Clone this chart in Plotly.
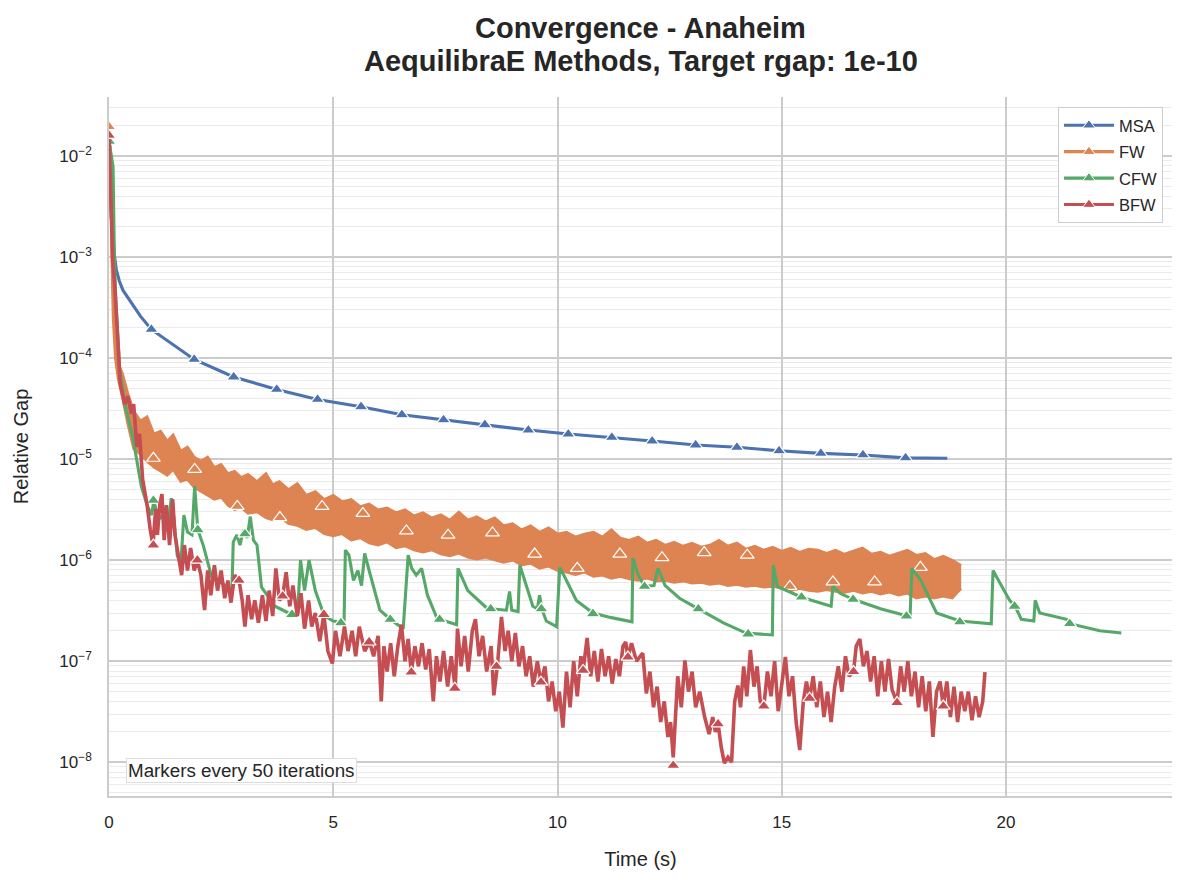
import plotly.graph_objects as go

# MSA
msa_t = [0.0, 0.05, 0.094, 0.12, 0.165, 0.23, 0.31, 0.46, 0.7, 0.945, 1.90, 2.78, 3.74, 4.65,
         5.62, 6.53, 7.46, 8.38, 9.35, 10.24, 11.21, 12.11, 13.08, 14.00, 14.94, 15.87, 16.81,
         17.76, 18.69]
msa_gap = [1.6e-2, 2.5e-3, 1.6e-3, 1.05e-3, 7.4e-4, 5.8e-4, 4.7e-4, 3.7e-4, 2.6e-4, 1.92e-4,
           9.7e-5, 6.5e-5, 4.9e-5, 3.9e-5, 3.3e-5, 2.75e-5, 2.45e-5, 2.19e-5, 1.94e-5, 1.77e-5,
           1.64e-5, 1.51e-5, 1.38e-5, 1.31e-5, 1.21e-5, 1.14e-5, 1.10e-5, 1.03e-5, 1.02e-5]
msa_mark_t = [0.0, 0.945, 1.90, 2.78, 3.74, 4.65, 5.62, 6.53, 7.46, 8.38, 9.35, 10.24, 11.21,
              12.11, 13.08, 14.00, 14.94, 15.87, 16.81, 17.76]
msa_mark_gap = [1.6e-2, 1.92e-4, 9.7e-5, 6.5e-5, 4.9e-5, 3.9e-5, 3.3e-5, 2.75e-5, 2.45e-5, 2.19e-5,
                1.94e-5, 1.77e-5, 1.64e-5, 1.51e-5, 1.38e-5, 1.31e-5, 1.21e-5, 1.14e-5, 1.10e-5, 1.03e-5]

# FW oscillates heavily, kept as upper / lower edge of the band
fw_t = [0.0, 0.03, 0.06, 0.09, 0.14, 0.2, 0.3, 0.42, 0.55, 0.7, 0.85, 1.0, 1.15, 1.3, 1.43, 1.6,
        1.75, 1.9, 2.05, 2.2, 2.35, 2.5, 2.65, 2.8, 2.95, 3.1, 3.3, 3.5, 3.65, 3.8, 4.0, 4.2, 4.4,
        4.6, 4.8, 5.0, 5.2, 5.4, 5.6, 5.8, 6.0, 6.2, 6.4, 6.6, 6.8, 7.0, 7.2, 7.4, 7.6, 7.8, 8.0,
        8.2, 8.4, 8.6, 8.8, 9.0, 9.2, 9.4, 9.6, 9.8, 10.0, 10.2, 10.4, 10.6, 10.8, 11.0, 11.2,
        11.4, 11.6, 11.8, 12.0, 12.2, 12.4, 12.6, 12.8, 13.0, 13.2, 13.4, 13.6, 13.8, 14.0, 14.2,
        14.4, 14.6, 14.8, 15.0, 15.2, 15.4, 15.6, 15.8, 16.0, 16.2, 16.4, 16.6, 16.8, 17.0, 17.2,
        17.4, 17.6, 17.8, 18.0, 18.2, 18.4, 18.6, 18.8, 19.0]
fw_hi = [1.95e-2, 1.1e-2, 1.5e-3, 4.5e-4, 1.4e-4, 8.9e-5, 7.1e-5, 4.5e-5, 3.0e-5, 2.4e-5, 2.63e-5,
         1.78e-5, 1.9e-5, 1.51e-5, 1.74e-5, 1.2e-5, 1.32e-5, 1.05e-5, 9.55e-6, 1.05e-5, 8.3e-6,
         8.9e-6, 7.2e-6, 7.6e-6, 6.6e-6, 7.1e-6, 6.0e-6, 7.2e-6, 5.6e-6, 6.0e-6, 5.0e-6, 5.75e-6,
         4.4e-6, 4.8e-6, 4.0e-6, 4.4e-6, 3.8e-6, 4.0e-6, 3.4e-6, 3.6e-6, 3.16e-6, 3.3e-6, 2.95e-6,
         3.16e-6, 2.75e-6, 2.95e-6, 2.63e-6, 2.82e-6, 2.5e-6, 3.0e-6, 2.5e-6, 2.7e-6, 2.4e-6,
         2.63e-6, 2.2e-6, 2.3e-6, 2.0e-6, 2.2e-6, 1.9e-6, 2.1e-6, 1.82e-6, 1.9e-6, 1.7e-6, 1.82e-6,
         1.9e-6, 1.7e-6, 2.0e-6, 1.66e-6, 1.58e-6, 1.7e-6, 1.48e-6, 1.58e-6, 1.41e-6, 1.51e-6,
         1.38e-6, 1.48e-6, 1.35e-6, 1.41e-6, 1.58e-6, 1.38e-6, 1.48e-6, 1.29e-6, 1.38e-6, 1.26e-6,
         1.35e-6, 1.23e-6, 1.32e-6, 1.2e-6, 1.29e-6, 1.26e-6, 1.17e-6, 1.26e-6, 1.15e-6, 1.23e-6,
         1.32e-6, 1.15e-6, 1.2e-6, 1.1e-6, 1.17e-6, 1.26e-6, 1.12e-6, 1.17e-6, 1.02e-6, 1.1e-6,
         1.0e-6, 8.9e-7]
fw_lo = [1.95e-2, 1.1e-2, 1.0e-3, 2.5e-4, 1.0e-4, 6.3e-5, 4.0e-5, 2.2e-5, 1.26e-5, 1.12e-5, 9.5e-6,
         8.3e-6, 7.6e-6, 6.9e-6, 7.9e-6, 6.0e-6, 6.3e-6, 5.25e-6, 4.8e-6, 4.4e-6, 4.0e-6, 4.2e-6,
         3.5e-6, 3.16e-6, 3.3e-6, 2.9e-6, 3.0e-6, 2.63e-6, 2.5e-6, 2.7e-6, 2.3e-6, 2.2e-6, 2.0e-6,
         2.1e-6, 1.82e-6, 1.74e-6, 1.82e-6, 1.58e-6, 1.66e-6, 1.48e-6, 1.41e-6, 1.51e-6, 1.32e-6,
         1.38e-6, 1.26e-6, 1.2e-6, 1.26e-6, 1.15e-6, 1.1e-6, 1.17e-6, 1.07e-6, 1.02e-6, 1.07e-6,
         1.0e-6, 9.5e-7, 1.0e-6, 8.9e-7, 9.3e-7, 8.3e-7, 8.7e-7, 7.9e-7, 7.6e-7, 7.2e-7, 7.6e-7,
         6.9e-7, 7.1e-7, 6.6e-7, 6.9e-7, 6.5e-7, 6.3e-7, 6.6e-7, 6.2e-7, 6.3e-7, 6.0e-7, 6.2e-7,
         5.9e-7, 6.0e-7, 5.75e-7, 5.9e-7, 5.6e-7, 5.75e-7, 5.5e-7, 5.6e-7, 5.4e-7, 5.5e-7, 5.25e-7,
         5.0e-7, 5.25e-7, 5.0e-7, 4.9e-7, 5.1e-7, 4.9e-7, 4.8e-7, 5.0e-7, 4.7e-7, 4.9e-7, 4.6e-7,
         4.8e-7, 4.5e-7, 4.7e-7, 4.2e-7, 4.4e-7, 4.2e-7, 4.4e-7, 4.2e-7, 5.25e-7]
fw_mark_t = [0.0, 0.99, 1.91, 2.86, 3.81, 4.75, 5.66, 6.63, 7.56, 8.55, 9.49, 10.44, 11.39, 12.33,
             13.27, 14.23, 15.18, 16.14, 17.07, 18.09]
fw_mark_gap = [1.95e-2, 1.02e-5, 7.9e-6, 3.4e-6, 2.64e-6, 3.4e-6, 2.9e-6, 1.95e-6, 1.77e-6, 1.86e-6,
               1.15e-6, 8.3e-7, 1.15e-6, 1.06e-6, 1.19e-6, 1.12e-6, 5.5e-7, 6.1e-7, 6.1e-7, 8.5e-7]

# CFW
cfw_t = [0.0, 0.09, 0.12, 0.15, 0.24, 0.35, 0.53, 0.72, 0.86, 0.95, 1.0, 1.1, 1.2, 1.3, 1.39, 1.45,
         1.52, 1.6, 1.67, 1.75, 1.85, 1.91, 1.98, 2.1, 2.29, 2.5, 2.74, 2.77, 2.85, 2.92, 3.0, 3.08,
         3.15, 3.22, 3.3, 3.4, 3.7, 4.07, 4.2, 4.27, 4.36, 4.46, 4.6, 4.8, 5.0, 5.24, 5.27, 5.35,
         5.45, 5.55, 5.63, 5.7, 5.8, 6.04, 6.27, 6.56, 6.67, 6.75, 6.85, 6.97, 7.1, 7.3, 7.37, 7.75,
         7.78, 8.0, 8.41, 8.51, 8.86, 8.93, 8.98, 9.12, 9.16, 9.3, 9.45, 9.55, 9.6, 9.66, 9.75,
         9.98, 10.05, 10.2, 10.42, 10.79, 11.2, 11.66, 11.68, 11.8, 11.94, 12.15, 12.24, 12.4,
         12.72, 13.14, 13.7, 14.2, 14.79, 14.81, 14.9, 15.44, 16.1, 16.14, 16.3, 16.59, 17.2,
         17.86, 17.9, 18.1, 18.3, 18.45, 18.97, 19.67, 19.71, 19.9, 20.08, 20.2, 20.34, 20.62,
         20.65, 20.75, 21.35, 21.42, 22.09, 22.57]
cfw_gap = [1.4e-2, 7.9e-3, 1.0e-3, 4.0e-4, 7.6e-5, 3.5e-5, 1.66e-5, 5.4e-6, 3.4e-6, 2.8e-6, 3.9e-6,
           2.5e-6, 2.8e-6, 2.0e-6, 4.1e-6, 2.5e-6, 1.12e-6, 8.9e-7, 2.8e-6, 1.9e-6, 1.78e-6, 5.4e-6,
           2.0e-6, 1.41e-6, 6.8e-7, 6.0e-7, 5.0e-7, 1.51e-6, 1.78e-6, 1.41e-6, 2.0e-6, 1.66e-6,
           2.7e-6, 1.58e-6, 1.41e-6, 5.4e-7, 3.5e-7, 2.9e-7, 2.8e-7, 1.0e-6, 5.0e-7, 1.0e-6, 5.0e-7,
           2.8e-7, 2.5e-7, 2.4e-7, 1.26e-6, 1.12e-6, 6.3e-7, 7.9e-7, 5.6e-7, 1.17e-6, 7.9e-7, 3.2e-7,
           2.6e-7, 2.1e-7, 1.12e-6, 8.3e-7, 7.1e-7, 8.3e-7, 4.5e-7, 2.75e-7, 2.6e-7, 2.3e-7, 8.3e-7,
           5.0e-7, 3.4e-7, 3.3e-7, 3.2e-7, 4.9e-7, 3.2e-7, 3.1e-7, 8.9e-7, 5.6e-7, 3.5e-7, 3.3e-7,
           4.5e-7, 3.2e-7, 2.5e-7, 2.2e-7, 8.5e-7, 6.3e-7, 4.0e-7, 3.0e-7, 2.7e-7, 2.45e-7, 1.05e-6,
           7.1e-7, 5.5e-7, 5.6e-7, 8.3e-7, 5.6e-7, 4.2e-7, 3.3e-7, 2.4e-7, 1.9e-7, 1.82e-7, 8.9e-7,
           5.5e-7, 4.3e-7, 3.5e-7, 5.5e-7, 4.7e-7, 4.1e-7, 3.3e-7, 2.75e-7, 8.3e-7, 6.3e-7, 4.2e-7,
           3.0e-7, 2.5e-7, 2.35e-7, 7.9e-7, 5.6e-7, 4.0e-7, 3.5e-7, 2.6e-7, 2.5e-7, 4.0e-7, 3.0e-7,
           2.6e-7, 2.35e-7, 2.0e-7, 1.9e-7]
cfw_mark_t = [0.0, 0.99, 1.98, 3.03, 4.08, 5.17, 6.27, 7.37, 8.51, 9.64, 10.79, 11.94, 13.14,
              14.25, 15.44, 16.59, 17.78, 18.97, 20.19, 21.42]
cfw_mark_gap = [1.4e-2, 3.9e-6, 2.0e-6, 1.82e-6, 2.9e-7, 2.4e-7, 2.6e-7, 2.6e-7, 3.3e-7, 3.3e-7,
                2.95e-7, 5.5e-7, 3.3e-7, 1.86e-7, 4.3e-7, 4.1e-7, 2.8e-7, 2.45e-7, 3.5e-7, 2.35e-7]

# BFW
bfw_t = [0.0, 0.04, 0.08, 0.13, 0.2, 0.25, 0.35, 0.42, 0.5, 0.55, 0.62, 0.68, 0.75, 0.85, 0.92,
         0.98, 1.04, 1.08, 1.13, 1.18, 1.23, 1.28, 1.35, 1.42, 1.47, 1.55, 1.62, 1.68, 1.75, 1.82,
         1.9, 1.97, 2.05, 2.13, 2.2, 2.27, 2.35, 2.42, 2.5, 2.58, 2.65, 2.72, 2.8, 2.9, 2.97, 3.03,
         3.1, 3.18, 3.25, 3.33, 3.42, 3.5, 3.57, 3.65, 3.72, 3.8, 3.87, 3.95, 4.03, 4.1, 4.2, 4.28,
         4.36, 4.45, 4.52, 4.6, 4.7, 4.79, 4.88, 4.98, 5.05, 5.15, 5.25, 5.33, 5.42, 5.5, 5.58, 5.7,
         5.81, 5.9, 6.0, 6.07, 6.13, 6.2, 6.28, 6.36, 6.44, 6.52, 6.6, 6.67, 6.74, 6.82, 6.9, 6.98,
         7.06, 7.14, 7.23, 7.3, 7.38, 7.46, 7.55, 7.63, 7.72, 7.77, 7.85, 7.93, 8.01, 8.1, 8.17,
         8.25, 8.33, 8.42, 8.52, 8.58, 8.66, 8.75, 8.83, 8.9, 8.98, 9.06, 9.14, 9.22, 9.3, 9.38,
         9.46, 9.55, 9.63, 9.72, 9.8, 9.88, 9.96, 10.04, 10.12, 10.2, 10.28, 10.36, 10.44, 10.52,
         10.57, 10.66, 10.74, 10.82, 10.9, 10.98, 11.06, 11.14, 11.22, 11.3, 11.38, 11.46, 11.52,
         11.57, 11.65, 11.76, 11.9, 11.98, 12.06, 12.14, 12.22, 12.3, 12.38, 12.46, 12.52, 12.58,
         12.62, 12.68, 12.76, 12.84, 12.92, 13.0, 13.08, 13.17, 13.28, 13.38, 13.46, 13.52, 13.58,
         13.65, 13.72, 13.8, 13.88, 13.95, 14.02, 14.08, 14.15, 14.22, 14.3, 14.38, 14.45, 14.52,
         14.6, 14.68, 14.76, 14.84, 14.92, 15.0, 15.08, 15.16, 15.24, 15.32, 15.4, 15.48, 15.55,
         15.62, 15.7, 15.78, 15.86, 15.94, 16.02, 16.1, 16.18, 16.26, 16.34, 16.42, 16.5, 16.6,
         16.66, 16.74, 16.82, 16.9, 16.98, 17.06, 17.14, 17.22, 17.3, 17.38, 17.46, 17.57, 17.65,
         17.73, 17.81, 17.89, 17.97, 18.05, 18.13, 18.21, 18.29, 18.37, 18.45, 18.53, 18.6, 18.68,
         18.76, 18.84, 18.92, 19.0, 19.08, 19.16, 19.24, 19.32, 19.4, 19.48, 19.53]
bfw_gap = [1.6e-2, 3.2e-3, 1.0e-3, 5.0e-4, 1.6e-4, 5.6e-5, 3.5e-5, 4.2e-5, 2.8e-5, 3.5e-5, 1.32e-5,
           1.78e-5, 6.3e-6, 3.5e-6, 2.0e-6, 1.41e-6, 3.2e-6, 1.78e-6, 3.5e-6, 4.5e-6, 1.58e-6,
           3.5e-6, 1.41e-6, 4.0e-6, 1.78e-6, 1.12e-6, 7.1e-7, 1.41e-6, 7.9e-7, 1.32e-6, 7.9e-7,
           1.0e-6, 7.1e-7, 3.2e-7, 7.9e-7, 4.5e-7, 8.9e-7, 5.0e-7, 7.9e-7, 4.2e-7, 6.3e-7, 3.8e-7,
           7.1e-7, 6.3e-7, 4.0e-7, 2.2e-7, 4.5e-7, 2.6e-7, 4.0e-7, 2.4e-7, 4.5e-7, 2.5e-7, 5.0e-7,
           2.8e-7, 8.3e-7, 4.0e-7, 4.4e-7, 7.6e-7, 3.5e-7, 5.6e-7, 2.8e-7, 4.7e-7, 2.1e-7, 4.0e-7,
           2.2e-7, 3.0e-7, 1.58e-7, 2.9e-7, 1.26e-7, 9.5e-8, 2.0e-7, 1.12e-7, 2.2e-7, 1.26e-7,
           2.0e-7, 1.12e-7, 2.2e-7, 1.26e-7, 1.55e-7, 1.12e-7, 1.78e-7, 4.0e-8, 1.41e-7, 7.9e-8,
           1.51e-7, 7.1e-8, 1.41e-7, 2.3e-7, 1.0e-7, 1.66e-7, 7.8e-8, 1.41e-7, 8.9e-8, 1.51e-7,
           8.3e-8, 1.32e-7, 4.0e-8, 1.12e-7, 6.3e-8, 1.26e-7, 5.6e-8, 1.12e-7, 5.4e-8, 2.1e-7,
           8.9e-8, 1.78e-7, 7.9e-8, 2.0e-7, 2.6e-7, 1.12e-7, 1.78e-7, 7.9e-8, 1.41e-7, 4.6e-8,
           9.1e-8, 2.75e-7, 1.26e-7, 2.0e-7, 1.0e-7, 1.9e-7, 8.9e-8, 1.41e-7, 7.1e-8, 1.12e-7,
           5.6e-8, 1.0e-7, 6.2e-8, 8.9e-8, 4.0e-8, 6.3e-8, 3.2e-8, 5.0e-8, 2.2e-8, 7.9e-8, 3.5e-8,
           1.0e-7, 4.5e-8, 1.12e-7, 8.1e-8, 1.7e-7, 7.1e-8, 1.26e-7, 6.3e-8, 1.32e-7, 7.1e-8,
           1.12e-7, 6.0e-8, 1.05e-7, 7.1e-8, 1.41e-7, 1.55e-7, 1.1e-7, 1.51e-7, 1.0e-7, 1.2e-7,
           4.8e-8, 7.9e-8, 3.5e-8, 5.6e-8, 2.5e-8, 4.0e-8, 1.78e-8, 2.5e-8, 1.12e-8, 2.5e-8, 7.1e-8,
           3.5e-8, 1.02e-7, 5.0e-8, 7.9e-8, 3.5e-8, 5.0e-8, 2.8e-8, 1.9e-8, 2.8e-8, 2.0e-8, 2.4e-8,
           1.41e-8, 9.8e-9, 1.12e-8, 1.0e-8, 4.0e-8, 5.75e-8, 3.5e-8, 8.9e-8, 4.5e-8, 1.29e-7,
           5.6e-8, 8.9e-8, 4.0e-8, 3.6e-8, 7.9e-8, 4.5e-8, 1.0e-7, 3.2e-8, 6.3e-8, 1.1e-7, 4.5e-8,
           7.1e-8, 2.5e-8, 1.32e-8, 4.0e-8, 6.3e-8, 4.3e-8, 7.1e-8, 3.5e-8, 6.3e-8, 2.8e-8, 5.0e-8,
           2.5e-8, 5.6e-8, 8.9e-8, 5.0e-8, 1.12e-7, 7.1e-8, 7.9e-8, 1.41e-7, 1.66e-7, 8.9e-8,
           1.26e-7, 6.3e-8, 1.12e-7, 4.5e-8, 1.0e-7, 5.0e-8, 1.05e-7, 5.2e-8, 3.9e-8, 8.9e-8, 5.0e-8,
           1.0e-7, 4.5e-8, 7.9e-8, 3.5e-8, 7.1e-8, 3.2e-8, 6.3e-8, 1.78e-8, 5.0e-8, 6.3e-8, 3.6e-8,
           6.3e-8, 2.8e-8, 5.6e-8, 2.5e-8, 5.0e-8, 3.2e-8, 5.0e-8, 2.6e-8, 4.5e-8, 2.8e-8, 4.0e-8,
           7.8e-8]
bfw_mark_t = [0.0, 0.99, 1.97, 2.90, 3.87, 4.79, 5.80, 6.74, 7.71, 8.64, 9.63, 10.57, 11.57, 12.58,
              13.58, 14.60, 15.62, 16.60, 17.57, 18.60]
bfw_mark_gap = [1.6e-2, 1.41e-6, 1.0e-6, 6.3e-7, 4.4e-7, 2.9e-7, 1.55e-7, 7.8e-8, 5.4e-8, 8.9e-8,
                6.2e-8, 8.1e-8, 1.1e-7, 9.3e-9, 2.4e-8, 3.6e-8, 4.3e-8, 7.9e-8, 3.9e-8, 3.6e-8]

names = ["MSA", "FW", "CFW", "BFW"]
colors = ["#4C72B0", "#DD8452", "#55A868", "#C44E52"]
ytick_vals = [1e-8, 1e-7, 1e-6, 1e-5, 1e-4, 1e-3, 1e-2]
ytick_text = ["10<sup>\u22128</sup>", "10<sup>\u22127</sup>", "10<sup>\u22126</sup>",
              "10<sup>\u22125</sup>", "10<sup>\u22124</sup>", "10<sup>\u22123</sup>",
              "10<sup>\u22122</sup>"]

font = "Liberation Sans, Arial, sans-serif"
dark = "#262626"
lw = 3.1


def markers(x, y, c):
    return go.Scatter(x=x, y=y, mode="markers", showlegend=False, hoverinfo="skip",
                      marker=dict(symbol="triangle-up", size=12, color=c,
                                  line=dict(color="white", width=1.2)))


fig = go.Figure()

fig.add_trace(go.Scatter(x=msa_t, y=msa_gap, mode="lines", showlegend=False,
                         line=dict(color=colors[0], width=lw)))
fig.add_trace(markers(msa_mark_t, msa_mark_gap, colors[0]))

fig.add_trace(go.Scatter(x=fw_t, y=fw_lo, mode="lines", showlegend=False,
                         line=dict(color=colors[1], width=2.5)))
fig.add_trace(go.Scatter(x=fw_t, y=fw_hi, mode="lines", showlegend=False, fill="tonexty",
                         fillcolor=colors[1], line=dict(color=colors[1], width=2.5)))
fig.add_trace(markers(fw_mark_t, fw_mark_gap, colors[1]))

fig.add_trace(go.Scatter(x=cfw_t, y=cfw_gap, mode="lines", showlegend=False,
                         line=dict(color=colors[2], width=lw)))
fig.add_trace(markers(cfw_mark_t, cfw_mark_gap, colors[2]))

fig.add_trace(go.Scatter(x=bfw_t, y=bfw_gap, mode="lines", showlegend=False,
                         line=dict(color=colors[3], width=3.6)))
fig.add_trace(markers(bfw_mark_t, bfw_mark_gap, colors[3]))

# legend entries
for i in range(4):
    fig.add_trace(go.Scatter(x=[None], y=[None], mode="lines+markers", name=names[i],
                             legendgroup=names[i], line=dict(color=colors[i], width=lw),
                             marker=dict(symbol="triangle-up", size=11, color=colors[i],
                                         line=dict(color="white", width=1))))

fig.update_layout(
    width=1186, height=886,
    paper_bgcolor="white", plot_bgcolor="white",
    margin=dict(l=101, r=22, t=89, b=98),
    font=dict(family=font, size=17, color=dark),
    legend=dict(x=0.9915, y=0.9857, xanchor="right", yanchor="top", bgcolor="white",
                bordercolor="#cccccc", borderwidth=1, font=dict(size=16.5),
                traceorder="grouped", tracegroupgap=2, itemwidth=50),
    annotations=[
        dict(text="<b>Convergence - Anaheim</b>", xref="paper", yref="paper", x=0.5, y=1.098,
             xanchor="center", yanchor="middle", showarrow=False,
             font=dict(size=29, color=dark, weight="bold")),
        dict(text="<b>AequilibraE Methods, Target rgap: 1e-10</b>", xref="paper", yref="paper",
             x=0.5, y=1.052, xanchor="center", yanchor="middle", showarrow=False,
             font=dict(size=29, color=dark, weight="bold")),
        dict(text="Markers every 50 iterations", xref="paper", yref="paper",
             x=0.016, y=0.0186, xanchor="left", yanchor="bottom", showarrow=False,
             font=dict(size=18.8, color=dark), bgcolor="white",
             bordercolor="#dddddd", borderwidth=1, borderpad=1),
    ],
)

fig.update_xaxes(range=[0, 23.7], tickvals=[0, 5, 10, 15, 20], showgrid=True,
                 gridcolor="#cccccc", gridwidth=1.5, zeroline=False, showline=True,
                 linecolor="#cccccc", linewidth=1.5, ticks="outside", ticklen=10,
                 tickcolor="rgba(0,0,0,0)", tickfont=dict(size=17),
                 title=dict(text="Time (s)", standoff=21, font=dict(size=20)))
fig.update_yaxes(type="log", range=[-8.334, -1.416], tickvals=ytick_vals, ticktext=ytick_text,
                 showgrid=True, gridcolor="#cccccc", gridwidth=1.5, zeroline=False,
                 showline=True, linecolor="#cccccc", linewidth=1.5, ticks="outside",
                 ticklen=12, tickcolor="rgba(0,0,0,0)", tickfont=dict(size=17),
                 minor=dict(dtick="D1", showgrid=True, gridcolor="#ebebeb", gridwidth=1),
                 title=dict(text="Relative Gap", standoff=25, font=dict(size=20)))

fig.write_html("out.html")
